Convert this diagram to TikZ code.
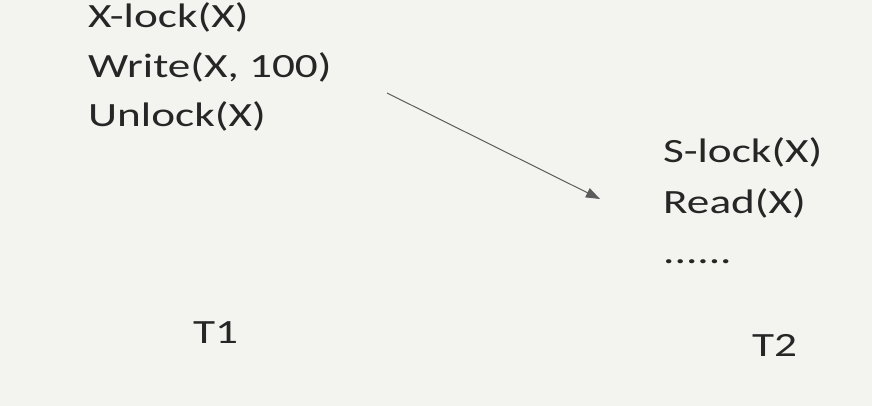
\documentclass[tikz,border=0pt]{standalone}
\usepackage{fontspec}
\setmainfont{Carlito}[FakeStretch=1.33]
\usetikzlibrary{arrows.meta}
\definecolor{slidebg}{HTML}{F3F4EF}
\definecolor{ink}{HTML}{262626}

\begin{document}
\begin{tikzpicture}[x=1pt, y=-1pt,
  op/.style={anchor=base west, inner sep=0pt, text=ink, font=\fontsize{34}{40}\selectfont}]
\fill[slidebg] (0,0) rectangle (872,406);
\useasboundingbox (0,0) rectangle (872,406);
% T1
\node[op] (xlock) at (88,28) {X-lock(X)};
\node[op] (write) at (88,78) {Write(X, 100)};
\node[op] (unlock) at (88,127) {Unlock(X)};
\node[op] (t1) at (193,343) {T1};
% T2
\node[op] (slock) at (663,163) {S-lock(X)};
\node[op] (read) at (663,213) {Read(X)};
\node[op] (dots) at (663,263) {......};
\node[op] (t2) at (752,356) {T2};
% arrow
\coordinate (from) at (387,93);
\coordinate (to) at (600,199);
\draw [ink!75, line width=1pt, -{Triangle[length=14pt, width=10pt]}] (from) -- (to);
\end{tikzpicture}
\end{document}
